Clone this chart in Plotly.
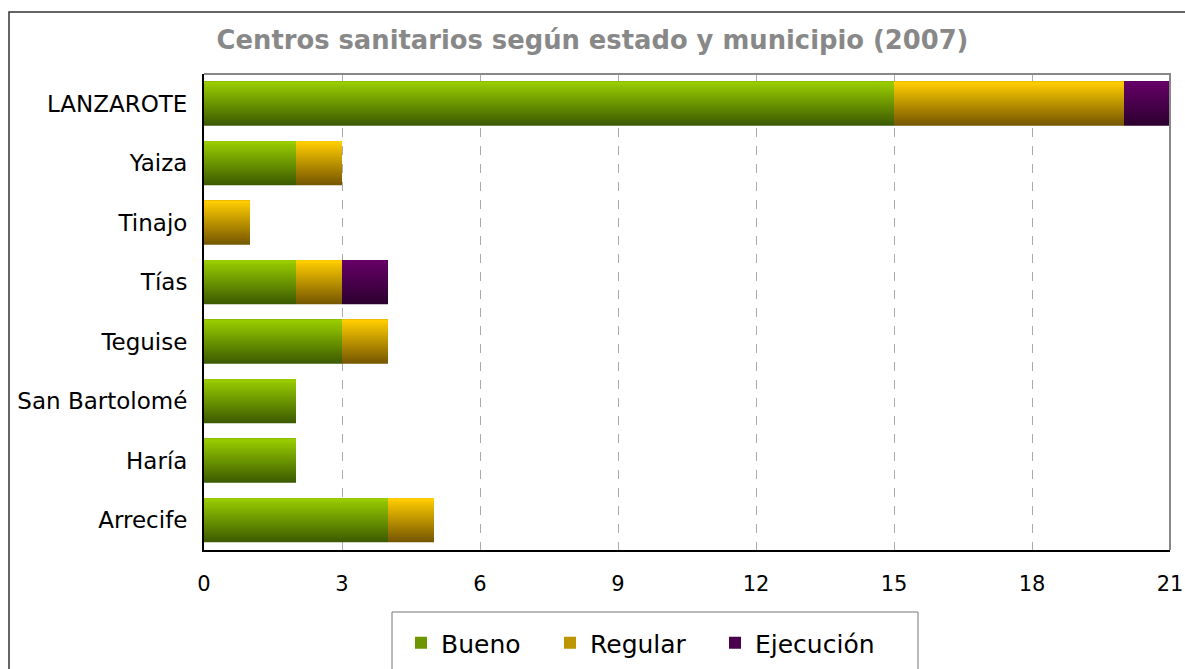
import plotly.graph_objects as go

categories = ["Arrecife", "Haría", "San Bartolomé", "Teguise", "Tías", "Tinajo", "Yaiza", "LANZAROTE"]
bueno = [4, 2, 2, 3, 2, 0, 2, 15]
regular = [1, 0, 0, 1, 1, 1, 1, 5]
ejecucion = [0, 0, 0, 0, 1, 0, 0, 1]
series_names = ["Bueno", "Regular", "Ejecución"]
x_ticks = [0, 3, 6, 9, 12, 15, 18, 21]
title_text = "Centros sanitarios según estado y municipio (2007)"

top_colors = ["#99cc00", "#ffcc00", "#660066"]
bottom_colors = ["#3d5c00", "#765800", "#2c0030"]


def hex_to_rgb(h):
    h = h.lstrip("#")
    return tuple(int(h[i:i + 2], 16) for i in (0, 2, 4))


def mix(c1, c2, t):
    a, b = hex_to_rgb(c1), hex_to_rgb(c2)
    return "rgb(%d,%d,%d)" % tuple(round(a[i] + (b[i] - a[i]) * t) for i in range(3))


series_values = [bueno, regular, ejecucion]
bases = [
    [0] * len(categories),
    list(bueno),
    [b + r for b, r in zip(bueno, regular)],
]
legend_ids = ["legend", "legend2", "legend3"]

BAR_W = 0.74
N = 24
fig = go.Figure()
for s, name in enumerate(series_names):
    for k in range(N):
        t = k / (N - 1)
        color = mix(bottom_colors[s], top_colors[s], t)
        fig.add_trace(go.Bar(
            y=categories,
            x=series_values[s],
            base=bases[s],
            orientation="h",
            width=BAR_W * (N - k) / N,
            offset=-BAR_W / 2 + k * BAR_W / N,
            marker=dict(color=color, line=dict(width=0)),
            name=name,
            legend=legend_ids[s],
            showlegend=(k == N // 2),
            hoverinfo="skip",
        ))

# pixel helpers for plot area
L, R, T, B = 204, 1170, 74, 550


def px(xp):
    return (xp - L) / (R - L)


def py(yp):
    return (B - yp) / (B - T)


shapes = [
    # outer frame
    dict(type="rect", xref="paper", yref="paper", x0=px(9), x1=px(1195), y0=py(700), y1=py(12),
         line=dict(color="#333333", width=1.5), layer="below"),
    # top/right plot border
    dict(type="path", xref="paper", yref="paper", path="M0,1 L1,1 L1,0",
         line=dict(color="#888888", width=2)),
    # legend box
    dict(type="rect", xref="paper", yref="paper", x0=px(392), x1=px(918), y0=py(700), y1=py(612),
         line=dict(color="#777777", width=1)),
]

legend_style = dict(orientation="h", xanchor="left", y=py(643), yanchor="middle",
                    font=dict(size=25), itemwidth=30, bgcolor="rgba(0,0,0,0)", borderwidth=0)
legend_lefts = [401, 550, 715]

fig.update_layout(
    width=1185, height=669,
    margin=dict(l=L, r=1185 - R, t=T, b=669 - B, autoexpand=False),
    paper_bgcolor="white", plot_bgcolor="white",
    barmode="overlay",
    font=dict(family="DejaVu Sans", color="black", size=21),
    title=dict(text="<b>" + title_text + "</b>", x=0.5, xref="container", xanchor="center",
               y=(669 - 40) / 669, yref="container", yanchor="middle",
               font=dict(size=25.8, color="#888888", family="DejaVu Sans")),
    xaxis=dict(range=[0, 21], tickvals=x_ticks, ticktext=[str(v) for v in x_ticks],
               showgrid=True, gridcolor="#aaaaaa", griddash="dash", gridwidth=1,
               showline=True, linecolor="black", linewidth=2, zeroline=False,
               ticks="", ticklabelstandoff=14, tickfont=dict(size=21)),
    yaxis=dict(categoryorder="array", categoryarray=categories, showgrid=False,
               showline=True, linecolor="black", linewidth=2, ticks="",
               ticklabelstandoff=10, tickfont=dict(size=23), range=[-0.5, 7.5]),
    legend=dict(x=px(legend_lefts[0]), **legend_style),
    legend2=dict(x=px(legend_lefts[1]), **legend_style),
    legend3=dict(x=px(legend_lefts[2]), **legend_style),
    shapes=shapes,
)

fig.write_html("out.html", config={"displayModeBar": False},
               post_script="document.body.style.margin='0';")
